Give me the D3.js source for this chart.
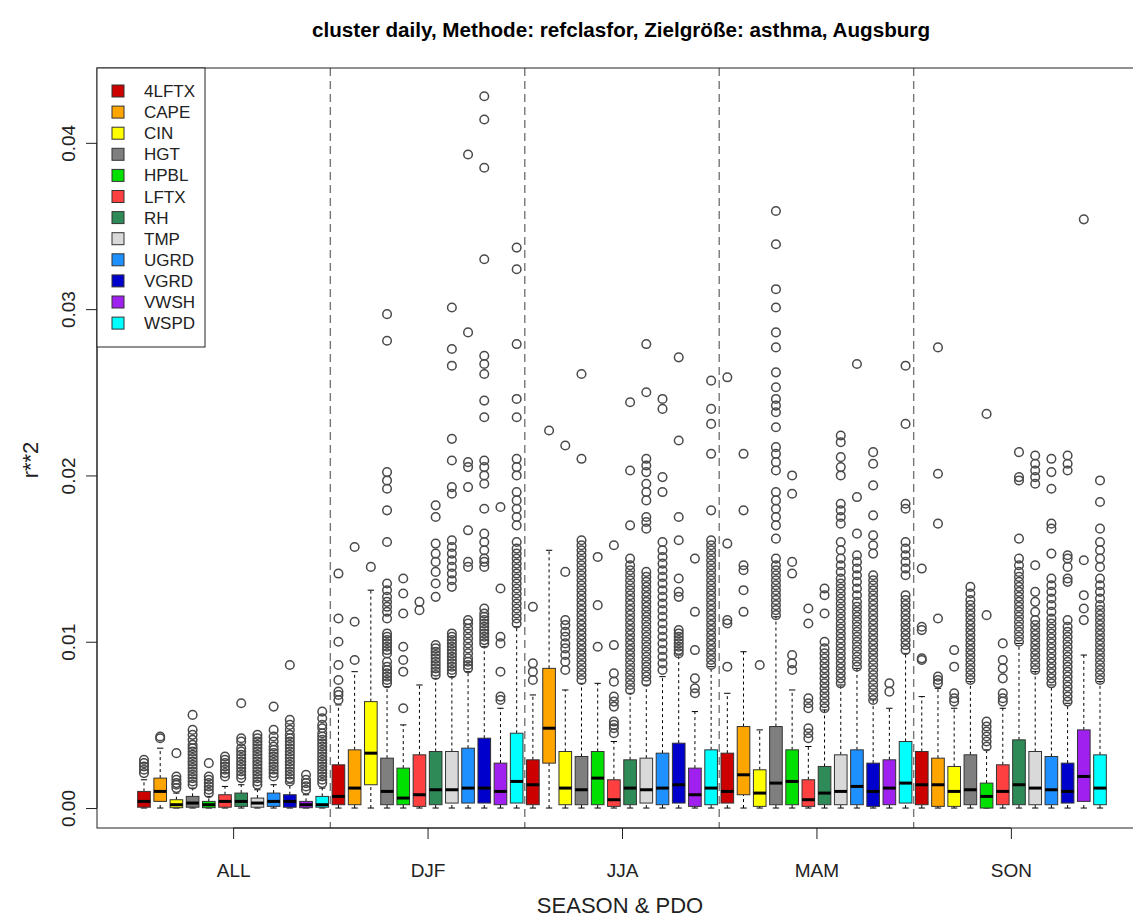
<!DOCTYPE html>
<html>
<head>
<meta charset="utf-8">
<script src="https://cdn.jsdelivr.net/npm/d3@7"></script>
<style>
  body { margin: 0; background: #fff; }
  svg text { font-family: "Liberation Sans", Arial, Helvetica, sans-serif; }
</style>
</head>
<body>
<div id="chart"></div>
<script>
// groups and variables
const seasons = ["ALL", "DJF", "JJA", "MAM", "SON"];
const variables = ["4LFTX", "CAPE", "CIN", "HGT", "HPBL", "LFTX", "RH", "TMP", "UGRD", "VGRD", "VWSH", "WSPD"];
const colors = ["#CD0000", "#FFA500", "#FFFF00", "#7F7F7F", "#00E000", "#FF4040", "#2E8B57", "#D9D9D9", "#1E90FF", "#0000CD", "#A020F0", "#00FFFF"];
const yTicks = [0, 0.01, 0.02, 0.03, 0.04];

// box stats per variable: [lower whisker, q1, median, q3, upper whisker]
const statsALL = [
  [0, 0.00005, 0.0004, 0.0010, 0.0017],
  [0, 0.0004, 0.0010, 0.0018, 0.0036],
  [0, 0.00002, 0.0002, 0.0005, 0.0009],
  [0, 0.00005, 0.0003, 0.0007, 0.0012],
  [0, 0.00002, 0.0002, 0.0004, 0.0007],
  [0, 0.00005, 0.0004, 0.0008, 0.0013],
  [0, 0.0001, 0.0004, 0.0009, 0.0014],
  [0, 0.00005, 0.0003, 0.0006, 0.0011],
  [0, 0.0001, 0.0004, 0.0009, 0.0014],
  [0, 0.00005, 0.0004, 0.0008, 0.0015],
  [0, 0.00002, 0.0002, 0.0004, 0.0008],
  [0, 0.00005, 0.0002, 0.0007, 0.0012]
];
const outALL = [
  [0.0021, 0.0023, 0.0025, 0.0027, 0.0029],
  [0.0042, 0.0043],
  [0.0012, 0.0014, 0.0015, 0.0017, 0.0019, 0.0033],
  [0.0014, 0.0016, 0.0018, 0.0020, 0.0022, 0.0024, 0.0026, 0.0028, 0.0030, 0.0032, 0.0034, 0.0036, 0.0038, 0.0041, 0.0044, 0.0047, 0.0056],
  [0.0009, 0.0011, 0.0013, 0.0015, 0.0017, 0.0019, 0.0027],
  [0.0019, 0.0021, 0.0023, 0.0025, 0.0027, 0.0029, 0.0031],
  [0.0018, 0.0020, 0.0022, 0.0024, 0.0026, 0.0028, 0.0030, 0.0032, 0.0034, 0.0036, 0.0040, 0.0042, 0.0063],
  [0.0014, 0.0016, 0.0018, 0.0020, 0.0022, 0.0024, 0.0026, 0.0028, 0.0030, 0.0032, 0.0034, 0.0036, 0.0038, 0.0040, 0.0042, 0.0044],
  [0.0019, 0.0021, 0.0023, 0.0025, 0.0027, 0.0029, 0.0031, 0.0033, 0.0035, 0.0037, 0.0040, 0.0043, 0.0047, 0.0061],
  [0.0016, 0.0018, 0.0020, 0.0022, 0.0024, 0.0026, 0.0028, 0.0030, 0.0032, 0.0034, 0.0036, 0.0038, 0.0040, 0.0042, 0.0044, 0.0047, 0.0050, 0.0053, 0.0086],
  [0.0011, 0.0013, 0.0015, 0.0017, 0.0020],
  [0.0015, 0.0017, 0.0019, 0.0021, 0.0023, 0.0025, 0.0027, 0.0029, 0.0031, 0.0033, 0.0035, 0.0037, 0.0039, 0.0041, 0.0043, 0.0045, 0.0048, 0.0050, 0.0054, 0.0058]
];

const statsDJF = [
  [0, 0.0002, 0.0007, 0.0026, 0.0062],
  [0, 0.0002, 0.0012, 0.0035, 0.0082],
  [0, 0.0014, 0.0033, 0.0064, 0.0131],
  [0, 0.0002, 0.0010, 0.0030, 0.0073],
  [0, 0.0002, 0.0006, 0.0024, 0.0050],
  [0, 0.0001, 0.0008, 0.0032, 0.0074],
  [0, 0.0002, 0.0011, 0.0034, 0.0078],
  [0, 0.0003, 0.0011, 0.0034, 0.0079],
  [0, 0.0003, 0.0012, 0.0036, 0.0082],
  [0, 0.0003, 0.0012, 0.0042, 0.0097],
  [0, 0.0002, 0.0010, 0.0027, 0.0060],
  [0, 0.0003, 0.0016, 0.0045, 0.0109]
];
const outDJF = [
  [0.0065, 0.0068, 0.0070, 0.0077, 0.0086, 0.0100, 0.0114, 0.0141],
  [0.0089, 0.0112, 0.0157],
  [0.0145],
  [0.0075, 0.0077, 0.0079, 0.0081, 0.0083, 0.0085, 0.0088, 0.0093, 0.0095, 0.0097, 0.0099, 0.0101, 0.0103, 0.0105, 0.0114, 0.0118, 0.0121, 0.0124, 0.0127, 0.0131, 0.0135, 0.0160, 0.0179, 0.0192, 0.0197, 0.0202, 0.0281, 0.0297],
  [0.0060, 0.0082, 0.0089, 0.0097, 0.0117, 0.0129, 0.0138],
  [0.0119, 0.0124],
  [0.0080, 0.0082, 0.0084, 0.0086, 0.0088, 0.0090, 0.0092, 0.0094, 0.0096, 0.0098, 0.0127, 0.0135, 0.0142, 0.0148, 0.0153, 0.0159, 0.0175, 0.0182],
  [0.0081, 0.0083, 0.0085, 0.0087, 0.0089, 0.0091, 0.0093, 0.0095, 0.0097, 0.0099, 0.0101, 0.0103, 0.0105, 0.0133, 0.0137, 0.0141, 0.0145, 0.0149, 0.0153, 0.0157, 0.0161, 0.0189, 0.0193, 0.0209, 0.0222, 0.0266, 0.0276, 0.0301],
  [0.0084, 0.0086, 0.0088, 0.0090, 0.0093, 0.0096, 0.0099, 0.0102, 0.0105, 0.0108, 0.0111, 0.0113, 0.0145, 0.0148, 0.0167, 0.0193, 0.0205, 0.0208, 0.0286, 0.0393],
  [0.0099, 0.0101, 0.0103, 0.0105, 0.0107, 0.0109, 0.0111, 0.0113, 0.0115, 0.0117, 0.0120, 0.0145, 0.0148, 0.0150, 0.0155, 0.0160, 0.0165, 0.0180, 0.0195, 0.0200, 0.0205, 0.0209, 0.0235, 0.0245, 0.0261, 0.0267, 0.0272, 0.0330, 0.0385, 0.0414, 0.0428],
  [0.0065, 0.0067, 0.0082, 0.0099, 0.0103, 0.0132, 0.0181],
  [0.0111, 0.0114, 0.0117, 0.0120, 0.0123, 0.0126, 0.0129, 0.0132, 0.0135, 0.0138, 0.0141, 0.0144, 0.0147, 0.0150, 0.0153, 0.0156, 0.0160, 0.0170, 0.0175, 0.0180, 0.0185, 0.0190, 0.0200, 0.0205, 0.0210, 0.0235, 0.0246, 0.0279, 0.0324, 0.0337]
];

const statsJJA = [
  [0, 0.0002, 0.0014, 0.0029, 0.0068],
  [0, 0.0027, 0.0048, 0.0084, 0.0155],
  [0, 0.0002, 0.0012, 0.0034, 0.0071],
  [0, 0.0002, 0.0011, 0.0031, 0.0075],
  [0, 0.0002, 0.0018, 0.0034, 0.0075],
  [0, 0.0001, 0.0005, 0.0017, 0.0040],
  [0, 0.0002, 0.0012, 0.0029, 0.0069],
  [0, 0.0003, 0.0011, 0.0030, 0.0074],
  [0, 0.0002, 0.0012, 0.0033, 0.0079],
  [0, 0.0003, 0.0014, 0.0039, 0.0092],
  [0, 0.0001, 0.0008, 0.0024, 0.0058],
  [0, 0.0002, 0.0012, 0.0035, 0.0085]
];
const outJJA = [
  [0.0077, 0.0082, 0.0087, 0.0121],
  [0.0227],
  [0.0083, 0.0088, 0.0092, 0.0096, 0.0099, 0.0103, 0.0106, 0.0110, 0.0113, 0.0142, 0.0218],
  [0.0077, 0.0080, 0.0083, 0.0086, 0.0089, 0.0092, 0.0095, 0.0098, 0.0101, 0.0104, 0.0107, 0.0110, 0.0113, 0.0116, 0.0119, 0.0122, 0.0125, 0.0128, 0.0131, 0.0134, 0.0137, 0.0140, 0.0143, 0.0146, 0.0149, 0.0152, 0.0155, 0.0158, 0.0161, 0.0210, 0.0261],
  [0.0097, 0.0122, 0.0151],
  [0.0045, 0.0048, 0.0050, 0.0052, 0.0061, 0.0064, 0.0067, 0.0076, 0.0081, 0.0098, 0.0158],
  [0.0071, 0.0074, 0.0077, 0.0080, 0.0083, 0.0086, 0.0089, 0.0092, 0.0095, 0.0098, 0.0101, 0.0104, 0.0107, 0.0110, 0.0113, 0.0116, 0.0119, 0.0122, 0.0125, 0.0128, 0.0131, 0.0134, 0.0137, 0.0140, 0.0143, 0.0146, 0.0150, 0.0170, 0.0203, 0.0244],
  [0.0076, 0.0079, 0.0082, 0.0085, 0.0088, 0.0091, 0.0094, 0.0097, 0.0100, 0.0103, 0.0106, 0.0109, 0.0112, 0.0115, 0.0118, 0.0121, 0.0124, 0.0127, 0.0130, 0.0133, 0.0136, 0.0139, 0.0142, 0.0168, 0.0172, 0.0175, 0.0185, 0.0190, 0.0195, 0.0202, 0.0206, 0.0210, 0.0250, 0.0279],
  [0.0083, 0.0087, 0.0091, 0.0095, 0.0099, 0.0103, 0.0107, 0.0111, 0.0115, 0.0119, 0.0123, 0.0127, 0.0131, 0.0135, 0.0139, 0.0143, 0.0147, 0.0151, 0.0155, 0.0160, 0.0190, 0.0199, 0.0240, 0.0246],
  [0.0093, 0.0095, 0.0097, 0.0099, 0.0101, 0.0103, 0.0105, 0.0107, 0.0127, 0.0130, 0.0138, 0.0161, 0.0175, 0.0221, 0.0271],
  [0.0069, 0.0072, 0.0078, 0.0095, 0.0118, 0.0150],
  [0.0086, 0.0089, 0.0092, 0.0095, 0.0098, 0.0101, 0.0104, 0.0107, 0.0110, 0.0113, 0.0116, 0.0119, 0.0122, 0.0125, 0.0128, 0.0131, 0.0134, 0.0137, 0.0140, 0.0143, 0.0146, 0.0149, 0.0152, 0.0155, 0.0158, 0.0161, 0.0179, 0.0213, 0.0231, 0.0240, 0.0257]
];

const statsMAM = [
  [0, 0.0003, 0.0010, 0.0033, 0.0069],
  [0, 0.0008, 0.0020, 0.0049, 0.0094],
  [0, 0.0001, 0.0009, 0.0023, 0.0047],
  [0, 0.0002, 0.0015, 0.0049, 0.0115],
  [0, 0.0002, 0.0016, 0.0035, 0.0071],
  [0, 0.0001, 0.0005, 0.0017, 0.0037],
  [0, 0.0002, 0.0009, 0.0025, 0.0059],
  [0, 0.0002, 0.0010, 0.0032, 0.0074],
  [0, 0.0002, 0.0013, 0.0035, 0.0084],
  [0, 0.0001, 0.0010, 0.0027, 0.0065],
  [0, 0.0002, 0.0012, 0.0029, 0.0060],
  [0, 0.0003, 0.0015, 0.0040, 0.0093]
];
const outMAM = [
  [0.0085, 0.0111, 0.0113, 0.0159, 0.0259],
  [0.0118, 0.0131, 0.0143, 0.0146, 0.0179, 0.0213],
  [0.0086],
  [0.0116, 0.0119, 0.0122, 0.0125, 0.0128, 0.0131, 0.0134, 0.0137, 0.0140, 0.0143, 0.0146, 0.0150, 0.0162, 0.0170, 0.0175, 0.0180, 0.0185, 0.0190, 0.0203, 0.0208, 0.0213, 0.0217, 0.0229, 0.0238, 0.0242, 0.0246, 0.0253, 0.0262, 0.0277, 0.0286, 0.0301, 0.0312, 0.0339, 0.0359],
  [0.0083, 0.0087, 0.0092, 0.0141, 0.0148, 0.0189, 0.0200],
  [0.0042, 0.0045, 0.0048, 0.0060, 0.0063, 0.0066, 0.0111, 0.0120],
  [0.0060, 0.0063, 0.0066, 0.0069, 0.0072, 0.0075, 0.0078, 0.0081, 0.0084, 0.0087, 0.0090, 0.0093, 0.0096, 0.0100, 0.0117, 0.0128, 0.0132],
  [0.0075, 0.0078, 0.0081, 0.0084, 0.0087, 0.0090, 0.0093, 0.0096, 0.0099, 0.0102, 0.0105, 0.0108, 0.0111, 0.0114, 0.0117, 0.0120, 0.0123, 0.0126, 0.0129, 0.0132, 0.0135, 0.0138, 0.0142, 0.0146, 0.0150, 0.0155, 0.0160, 0.0171, 0.0175, 0.0179, 0.0183, 0.0200, 0.0205, 0.0211, 0.0220, 0.0224],
  [0.0085, 0.0088, 0.0091, 0.0094, 0.0097, 0.0100, 0.0103, 0.0106, 0.0109, 0.0112, 0.0115, 0.0118, 0.0121, 0.0124, 0.0128, 0.0132, 0.0136, 0.0140, 0.0144, 0.0148, 0.0152, 0.0165, 0.0187, 0.0267],
  [0.0065, 0.0068, 0.0071, 0.0074, 0.0077, 0.0080, 0.0083, 0.0086, 0.0089, 0.0092, 0.0095, 0.0098, 0.0101, 0.0104, 0.0107, 0.0110, 0.0113, 0.0116, 0.0119, 0.0122, 0.0125, 0.0128, 0.0131, 0.0134, 0.0137, 0.0140, 0.0153, 0.0158, 0.0164, 0.0176, 0.0194, 0.0207, 0.0214],
  [0.0070, 0.0075],
  [0.0095, 0.0098, 0.0101, 0.0104, 0.0107, 0.0110, 0.0113, 0.0116, 0.0119, 0.0122, 0.0125, 0.0128, 0.0140, 0.0144, 0.0148, 0.0152, 0.0156, 0.0160, 0.0180, 0.0183, 0.0231, 0.0266]
];

const statsSON = [
  [0, 0.0002, 0.0014, 0.0034, 0.0067],
  [0, 0.0001, 0.0014, 0.0030, 0.0072],
  [0, 0.0001, 0.0010, 0.0025, 0.0060],
  [0, 0.0002, 0.0011, 0.0032, 0.0076],
  [0, 0.0000, 0.0007, 0.0015, 0.0035],
  [0, 0.0002, 0.0010, 0.0026, 0.0060],
  [0, 0.0002, 0.0014, 0.0041, 0.0099],
  [0, 0.0002, 0.0012, 0.0034, 0.0082],
  [0, 0.0002, 0.0011, 0.0031, 0.0074],
  [0, 0.0003, 0.0010, 0.0027, 0.0063],
  [0, 0.0004, 0.0019, 0.0047, 0.0092],
  [0, 0.0002, 0.0012, 0.0032, 0.0076]
];
const outSON = [
  [0.0089, 0.0090, 0.0107, 0.0109, 0.0144],
  [0.0075, 0.0077, 0.0079, 0.0114, 0.0171, 0.0201, 0.0277],
  [0.0064, 0.0066, 0.0069, 0.0085, 0.0095],
  [0.0077, 0.0080, 0.0083, 0.0086, 0.0089, 0.0092, 0.0095, 0.0098, 0.0101, 0.0104, 0.0107, 0.0110, 0.0113, 0.0116, 0.0119, 0.0122, 0.0125, 0.0129, 0.0133],
  [0.0037, 0.0040, 0.0043, 0.0046, 0.0049, 0.0052, 0.0116, 0.0237],
  [0.0064, 0.0066, 0.0069, 0.0078, 0.0084, 0.0089, 0.0099],
  [0.0100, 0.0103, 0.0106, 0.0109, 0.0112, 0.0115, 0.0118, 0.0121, 0.0124, 0.0127, 0.0130, 0.0133, 0.0136, 0.0139, 0.0142, 0.0146, 0.0150, 0.0162, 0.0197, 0.0199, 0.0214],
  [0.0083, 0.0086, 0.0089, 0.0092, 0.0095, 0.0098, 0.0101, 0.0104, 0.0107, 0.0110, 0.0113, 0.0118, 0.0124, 0.0130, 0.0146, 0.0195, 0.0199, 0.0203, 0.0207, 0.0212],
  [0.0075, 0.0078, 0.0081, 0.0084, 0.0087, 0.0090, 0.0093, 0.0096, 0.0099, 0.0102, 0.0105, 0.0108, 0.0111, 0.0114, 0.0118, 0.0122, 0.0126, 0.0130, 0.0134, 0.0138, 0.0153, 0.0168, 0.0171, 0.0192, 0.0202, 0.0210],
  [0.0064, 0.0067, 0.0070, 0.0073, 0.0076, 0.0079, 0.0082, 0.0085, 0.0088, 0.0091, 0.0094, 0.0097, 0.0100, 0.0103, 0.0106, 0.0109, 0.0113, 0.0136, 0.0138, 0.0145, 0.0150, 0.0152, 0.0203, 0.0207, 0.0212],
  [0.0113, 0.0120, 0.0128, 0.0149, 0.0354],
  [0.0077, 0.0080, 0.0083, 0.0086, 0.0089, 0.0092, 0.0095, 0.0098, 0.0101, 0.0104, 0.0107, 0.0110, 0.0113, 0.0116, 0.0119, 0.0122, 0.0126, 0.0130, 0.0134, 0.0138, 0.0145, 0.0150, 0.0155, 0.0160, 0.0168, 0.0184, 0.0197]
];

const allStats = [statsALL, statsDJF, statsJJA, statsMAM, statsSON];
const allOut = [outALL, outDJF, outJJA, outMAM, outSON];

// build a flat list of boxes, position 1..60
const boxes = [];
seasons.forEach((s, g) => {
  variables.forEach((v, k) => {
    const st = allStats[g][k];
    boxes.push({
      pos: g * variables.length + k + 1,
      season: s, variable: v, color: colors[k],
      lo: st[0], q1: st[1], med: st[2], q3: st[3], hi: st[4],
      out: allOut[g][k]
    });
  });
});

const W = 1133, H = 920;
const plot = { left: 97, right: 1147, top: 68, bottom: 828 };

const x = d3.scaleLinear().domain([-1.9, 62.9]).range([plot.left, plot.right]);
const y = d3.scaleLinear().domain([-0.0012, 0.0445]).range([plot.bottom, plot.top]);

const boxW = (x(2) - x(1)) * 0.78;
const capW = boxW * 0.5;

const svg = d3.select("#chart").append("svg")
  .attr("width", W).attr("height", H);

svg.append("rect").attr("width", W).attr("height", H).attr("fill", "#fff");

// title
svg.append("text")
  .attr("x", 621).attr("y", 37)
  .attr("text-anchor", "middle")
  .attr("font-size", 19.5).attr("font-weight", "bold")
  .attr("textLength", 618).attr("lengthAdjust", "spacingAndGlyphs")
  .text("cluster daily, Methode: refclasfor, Zielgröße: asthma, Augsburg");

// season separators
const seps = [12.5, 24.5, 36.5, 48.5];
svg.selectAll("line.sep").data(seps).join("line")
  .attr("class", "sep")
  .attr("x1", d => x(d)).attr("x2", d => x(d))
  .attr("y1", plot.top).attr("y2", plot.bottom)
  .attr("stroke", "#777").attr("stroke-width", 1.4)
  .attr("stroke-dasharray", "8,5");

const g = svg.selectAll("g.box").data(boxes).join("g").attr("class", "box");

// whiskers
g.append("line")
  .attr("x1", d => x(d.pos)).attr("x2", d => x(d.pos))
  .attr("y1", d => y(d.q3)).attr("y2", d => y(d.hi))
  .attr("stroke", "#000").attr("stroke-width", 1).attr("stroke-dasharray", "3,3");
g.append("line")
  .attr("x1", d => x(d.pos)).attr("x2", d => x(d.pos))
  .attr("y1", d => y(d.lo)).attr("y2", d => y(d.q1))
  .attr("stroke", "#000").attr("stroke-width", 1).attr("stroke-dasharray", "3,3");
// staples
g.append("line")
  .attr("x1", d => x(d.pos) - capW / 2).attr("x2", d => x(d.pos) + capW / 2)
  .attr("y1", d => y(d.hi)).attr("y2", d => y(d.hi))
  .attr("stroke", "#000").attr("stroke-width", 1);
g.append("line")
  .attr("x1", d => x(d.pos) - capW / 2).attr("x2", d => x(d.pos) + capW / 2)
  .attr("y1", d => y(d.lo)).attr("y2", d => y(d.lo))
  .attr("stroke", "#000").attr("stroke-width", 1);

// boxes
g.append("rect")
  .attr("x", d => x(d.pos) - boxW / 2)
  .attr("width", boxW)
  .attr("y", d => y(d.q3))
  .attr("height", d => Math.max(1, y(d.q1) - y(d.q3)))
  .attr("fill", d => d.color)
  .attr("stroke", "#333").attr("stroke-width", 1);

// medians
g.append("line")
  .attr("x1", d => x(d.pos) - boxW / 2).attr("x2", d => x(d.pos) + boxW / 2)
  .attr("y1", d => y(d.med)).attr("y2", d => y(d.med))
  .attr("stroke", "#000").attr("stroke-width", 3);

// outliers
g.selectAll("circle")
  .data(d => d.out.map(v => ({ pos: d.pos, v })))
  .join("circle")
  .attr("cx", d => x(d.pos)).attr("cy", d => y(d.v))
  .attr("r", 4.3)
  .attr("fill", "none").attr("stroke", "#4a4a4a").attr("stroke-width", 1.5);

// frame
svg.append("rect")
  .attr("x", plot.left).attr("y", plot.top)
  .attr("width", plot.right - plot.left).attr("height", plot.bottom - plot.top)
  .attr("fill", "none").attr("stroke", "#222").attr("stroke-width", 1);

// y axis
const yAxis = svg.append("g")
  .attr("transform", `translate(${plot.left},0)`)
  .call(d3.axisLeft(y).tickValues(yTicks).tickFormat(d3.format(".2f")).tickSize(11).tickSizeOuter(0));
yAxis.select(".domain").attr("d", `M0,${y(0)}V${y(0.04)}`).attr("stroke", "#222");
yAxis.selectAll(".tick line").attr("stroke", "#222");
yAxis.selectAll(".tick text")
  .attr("transform", "rotate(-90)")
  .attr("x", 0).attr("y", -22).attr("dy", 0)
  .attr("text-anchor", "middle")
  .attr("font-size", 19).attr("fill", "#222")
  .style("font-family", "Liberation Sans, Arial, sans-serif");

// x axis
const groupCenters = seasons.map((s, i) => i * 12 + 6.5);
const xAxis = svg.append("g")
  .attr("transform", `translate(0,${plot.bottom})`)
  .call(d3.axisBottom(x).tickValues(groupCenters).tickFormat((d, i) => seasons[i]).tickSize(11).tickSizeOuter(0));
xAxis.select(".domain").attr("d", `M${x(groupCenters[0])},0H${x(groupCenters[4])}`).attr("stroke", "#222");
xAxis.selectAll(".tick line").attr("stroke", "#222");
xAxis.selectAll(".tick text")
  .attr("y", 49).attr("dy", 0)
  .attr("font-size", 19).attr("fill", "#222")
  .style("font-family", "Liberation Sans, Arial, sans-serif");

// axis titles
svg.append("text")
  .attr("x", 620).attr("y", 913)
  .attr("text-anchor", "middle").attr("font-size", 22).attr("fill", "#222")
  .text("SEASON & PDO");
svg.append("text")
  .attr("transform", "translate(38,460) rotate(-90)")
  .attr("text-anchor", "middle").attr("font-size", 22).attr("fill", "#222")
  .text("r**2");

// legend
const legend = svg.append("g");
legend.append("rect")
  .attr("x", plot.left).attr("y", plot.top)
  .attr("width", 108).attr("height", 279)
  .attr("fill", "#fff").attr("stroke", "#222").attr("stroke-width", 1);
const items = legend.selectAll("g.item").data(variables).join("g")
  .attr("class", "item")
  .attr("transform", (d, i) => `translate(${plot.left},${91 + i * 21.1})`);
items.append("rect")
  .attr("x", 15).attr("y", -6).attr("width", 12).attr("height", 12)
  .attr("fill", (d, i) => colors[i]).attr("stroke", "#333").attr("stroke-width", 1);
items.append("text")
  .attr("x", 47).attr("y", 6)
  .attr("font-size", 17).attr("fill", "#222")
  .text(d => d);
</script>
</body>
</html>
